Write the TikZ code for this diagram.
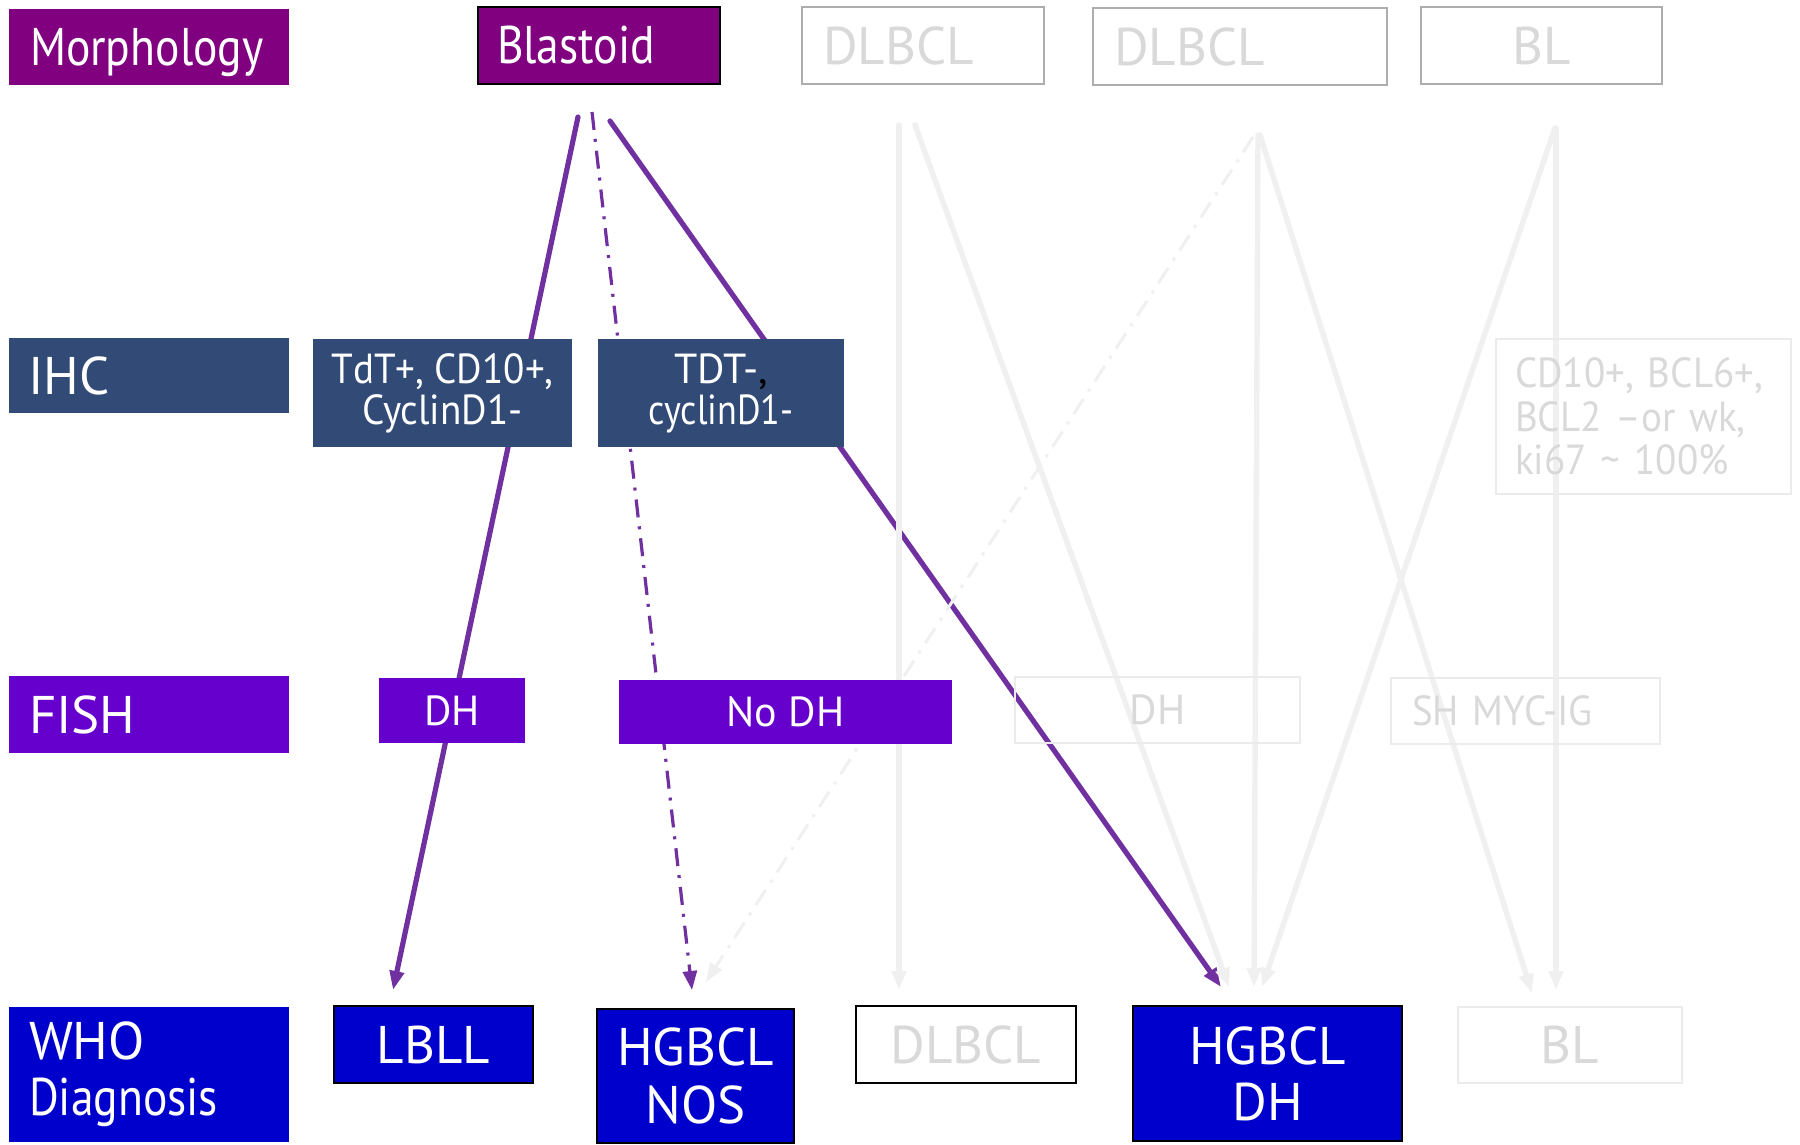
\documentclass[tikz,border=0pt]{standalone}
\usepackage{fontspec}
\setmainfont{PT Sans}
\newfontfamily\narrowA[FakeStretch=0.86]{PT Sans}
\newfontfamily\narrowB[FakeStretch=0.93]{PT Sans}
\usetikzlibrary{arrows.meta}
\pgfdeclarelayer{connlayer}
\pgfdeclarelayer{paperlayer}
\pgfsetlayers{paperlayer,connlayer,main}
\definecolor{morphc}{HTML}{800080}
\definecolor{ihcc}{HTML}{314A76}
\definecolor{fishc}{HTML}{6600CC}
\definecolor{whoc}{HTML}{0000CC}
\definecolor{arrowp}{HTML}{7030A0}
\definecolor{faintline}{HTML}{F0F0F0}
\definecolor{fainttext}{HTML}{D9D9D9}
\definecolor{faintbord}{HTML}{EBEBEB}
\definecolor{greybord}{HTML}{ADADAD}
\newcommand\mybox[7]{%
  \node[#6, minimum width={(#4-#2)*0.5pt}, minimum height={(#5-#3)*0.5pt}]
    (#1) at ({(#2+#4)/2},{(#3+#5)/2}) {#7};}
\begin{document}
\begin{tikzpicture}[x=0.5pt,y=-0.5pt,
  bigt/.style={font=\fontsize{26.5}{28}\selectfont},
  smallt/.style={font=\fontsize{21}{20.5}\selectfont},
  basebox/.style={inner sep=0pt, outer sep=0pt, align=center},
  filled/.style={basebox, fill=#1, text=white},
  faintbox/.style={basebox, draw=faintbord, line width=1pt, text=fainttext},
  greybox/.style={basebox, draw=greybord, line width=1.2pt, fill=white, text=fainttext},
  blackedge/.style={draw=black, line width=1.2pt},
  lefttext/.style={align=left, text width=#1},
  tip/.style={-{Triangle[length=9.5pt,width=7pt]}},
  pline/.style={draw=arrowp, line width=2.6pt, line cap=round, tip},
  pdd/.style={draw=arrowp, line width=1.6pt, tip, dash pattern=on 9pt off 4.5pt on 1.5pt off 4.5pt},
  gline/.style={draw=faintline, line width=2.7pt, line cap=round, tip},
  gdd/.style={draw=faintline, line width=1.5pt, tip, dash pattern=on 9pt off 4.5pt on 1.5pt off 4.5pt}
]
\begin{pgfonlayer}{paperlayer}
\fill[white] (0,0) rectangle (1800,1145);
\end{pgfonlayer}
\useasboundingbox (0,0) rectangle (1800,1145);

% ---- top row
\mybox{morph}{9}{9}{289}{85}{filled=morphc, bigt, lefttext=119pt, text depth=0pt}{\narrowA Morphology}
\mybox{blast}{478}{7}{720}{84}{filled=morphc, blackedge, bigt, lefttext=102pt}{\narrowA Blastoid}
\mybox{dlbclA}{802}{7}{1044}{84}{greybox, bigt, lefttext=100pt}{DLBCL}
\mybox{dlbclC}{1093}{8}{1387}{85}{greybox, bigt, lefttext=126pt}{DLBCL}
\mybox{blT}{1421}{7}{1662}{84}{greybox, bigt}{BL}

% ---- IHC row
\mybox{ihc}{9}{338}{289}{413}{filled=ihcc, bigt, lefttext=121pt}{IHC}
\mybox{tdt}{313}{339}{572}{447}{filled=ihcc, smallt}{\narrowB TdT+, CD10+,\\\narrowB CyclinD1-}
\mybox{tdtneg}{598}{339}{844}{447}{filled=ihcc, smallt}{TDT-{\color{black},}\\\narrowA cyclinD1-}
\mybox{cdten}{1496}{339}{1791}{494}{faintbox, smallt, font=\fontsize{21}{21.75}\selectfont, lefttext=128.5pt}{\narrowB CD10+, BCL6+,\\\narrowB BCL2 –or wk,\\\narrowB ki67 \char"7E{} 100\%}

% ---- FISH row
\mybox{fish}{9}{676}{289}{753}{filled=fishc, bigt, lefttext=120pt}{FISH}
\mybox{dh}{379}{678}{525}{743}{filled=fishc, smallt}{DH}
\mybox{nodh}{619}{680}{952}{744}{filled=fishc, smallt}{No DH}
\mybox{dhF}{1015}{677}{1300}{743}{faintbox, smallt}{DH}
\mybox{sh}{1391}{678}{1660}{744}{faintbox, smallt, lefttext=113.5pt}{\narrowB SH MYC-IG}

% ---- WHO row
\mybox{who}{9}{1007}{289}{1142}{filled=whoc, bigt, lefttext=120pt}{WHO\\\narrowA Diagnosis}
\mybox{lbll}{334}{1006}{533}{1083}{filled=whoc, blackedge, bigt}{LBLL}
\mybox{hgnos}{597}{1009}{794}{1143}{filled=whoc, blackedge, bigt, font=\fontsize{26.5}{29}\selectfont}{HGBCL\\NOS}
\mybox{dlbclB}{856}{1006}{1076}{1083}{basebox, fill=white, blackedge, bigt, text=fainttext}{DLBCL}
\mybox{hgdh}{1133}{1006}{1402}{1141}{filled=whoc, blackedge, bigt}{HGBCL\\DH}
\mybox{blB}{1458}{1007}{1682}{1083}{faintbox, fill=white, bigt}{BL}

% ---- connectors, under the boxes
\begin{pgfonlayer}{connlayer}
\draw[pline] ([xshift=-10.5pt,yshift=-16.5pt]blast.south) -- ([xshift=-20.25pt,yshift=8pt]lbll.north);
\draw[pdd] ([xshift=-3.5pt,yshift=-14pt]blast.south) -- ([xshift=-1.75pt,yshift=9.5pt]hgnos.north);
\draw[pline] ([xshift=5.5pt,yshift=-18.5pt]blast.south) -- ([xshift=-23.25pt,yshift=9.5pt]hgdh.north);
\draw[gline] ([xshift=-12pt,yshift=-20.5pt]dlbclA.south) -- ([xshift=-33.5pt,yshift=8pt]dlbclB.north);
\draw[gline] ([xshift=-4pt,yshift=-20.5pt]dlbclA.south) -- ([xshift=-19.25pt,yshift=9.5pt]hgdh.north);
\draw[gdd] ([xshift=6.5pt,yshift=-26pt]dlbclC.south) -- ([xshift=5.25pt,yshift=13.5pt]hgnos.north);
\draw[gline] ([xshift=9pt,yshift=-25pt]dlbclC.south) -- ([xshift=-6.75pt,yshift=9.5pt]hgdh.north);
\draw[gline] ([xshift=10pt,yshift=-25pt]dlbclC.south) -- ([xshift=-19pt,yshift=7pt]blB.north);
\draw[gline] ([xshift=6.75pt,yshift=-22pt]blT.south) -- ([xshift=-2.75pt,yshift=9.5pt]hgdh.north);
\draw[gline] ([xshift=7.25pt,yshift=-22pt]blT.south) -- ([xshift=-7pt,yshift=8.5pt]blB.north);
\end{pgfonlayer}
\end{tikzpicture}
\end{document}
